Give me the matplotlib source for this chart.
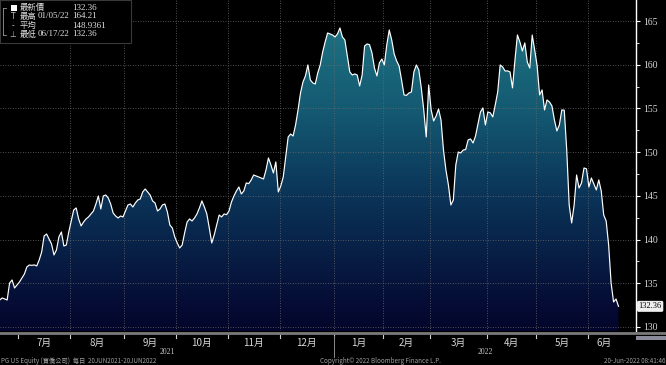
import numpy as np
import pandas as pd
import matplotlib
matplotlib.use('Agg')
import matplotlib.pyplot as plt
from matplotlib.colors import LinearSegmentedColormap
from matplotlib.transforms import blended_transform_factory
from matplotlib.patches import Rectangle, Polygon
from matplotlib.ticker import MultipleLocator, NullFormatter
from matplotlib.lines import Line2D

plt.rcParams['font.family'] = ['Noto Sans CJK TC', 'DejaVu Sans']

# ---------------- data ----------------
holidays = ['2021-07-05', '2021-09-06', '2021-11-25', '2021-12-24',
            '2022-01-17', '2022-02-21', '2022-04-15', '2022-05-30']
dates = pd.bdate_range('2021-06-21', '2022-06-17')
dates = dates[~dates.isin(pd.to_datetime(holidays))]

values = [
    133.09, 133.32, 133.20, 133.09, 135.03, 135.38, 134.46, 134.81, 135.15, 135.61,
    136.06, 136.87, 137.09, 137.05, 137.10, 136.98, 137.67, 138.58, 140.41, 140.64,
    140.07, 139.50, 138.24, 138.81, 140.30, 140.87, 139.27, 139.38, 140.87, 142.13,
    143.39, 143.62, 142.36, 141.56, 142.01, 142.36, 142.59, 142.93, 143.27, 144.07,
    144.99, 143.50, 144.99, 145.10, 144.76, 144.07, 143.04, 142.70, 142.47, 142.70,
    142.59, 143.27, 143.96, 144.07, 143.73, 144.19, 144.53, 144.65, 145.45, 145.79,
    145.45, 145.10, 144.42, 144.19, 143.27, 143.50, 143.96, 144.07, 143.16, 141.67,
    141.33, 140.30, 139.61, 139.04, 139.38, 140.76, 142.01, 142.36, 142.13, 142.47,
    142.93, 143.62, 144.42, 143.73, 142.93, 141.33, 139.61, 140.53, 141.67, 142.81,
    142.59, 142.93, 142.85, 143.27, 144.30, 144.99, 145.56, 146.02, 145.22, 145.56,
    146.48, 146.40, 146.82, 147.39, 147.28, 147.16, 147.05, 146.93, 147.96, 149.34,
    148.54, 147.62, 148.88, 145.45, 146.13, 147.16, 149.45, 151.74, 152.08, 151.85,
    153.11, 154.83, 156.77, 158.03, 158.72, 159.98, 158.26, 157.92, 157.80, 159.06,
    159.98, 161.47, 162.61, 163.64, 163.53, 163.41, 163.18, 163.53, 164.21, 163.18,
    162.84, 161.01, 159.18, 158.83, 158.95, 158.83, 157.58, 158.83, 162.15, 162.38,
    162.30, 161.35, 159.63, 158.72, 160.21, 160.66, 159.98, 162.27, 163.98, 162.84,
    161.24, 160.44, 159.86, 158.26, 156.55, 156.50, 156.77, 156.89, 159.18, 159.98,
    159.41, 157.35, 154.83, 151.74, 157.69, 154.83, 153.57, 154.14, 154.94, 153.69,
    150.25, 147.96, 146.25, 143.96, 144.53, 148.54, 150.02, 149.91, 150.25, 150.30,
    151.40, 151.51, 151.05, 151.85, 153.23, 154.60, 155.06, 153.11, 154.60, 154.50,
    154.03, 155.40, 156.89, 159.98, 159.75, 159.29, 159.30, 159.18, 157.35, 160.55,
    163.41, 162.61, 161.58, 162.50, 160.32, 159.63, 163.40, 161.69, 159.86, 156.55,
    157.12, 154.83, 155.97, 155.74, 155.29, 153.69, 152.43, 153.11, 154.83, 154.80,
    150.25, 143.96, 141.90, 143.96, 147.39, 145.90, 146.48, 148.19, 148.10, 146.02,
    147.05, 146.36, 145.68, 146.82, 145.56, 142.81, 142.13, 139.38, 135.03, 132.86,
    133.20, 132.36]

month_labels = ['7月', '8月', '9月', '10月', '11月', '12月',
                '1月', '2月', '3月', '4月', '5月', '6月']
year_labels = ['2021', '2022']
yticks = [130, 135, 140, 145, 150, 155, 160, 165]

legend_names = ['最新價', '最高', '平均', '最低']
legend_dates = ['', '01/05/22', '', '06/17/22']
legend_values = ['132.36', '164.21', '148.9361', '132.36']

footer_left = 'PG US Equity (寶僑公司)  每日  20JUN2021-20JUN2022'
footer_mid = 'Copyright© 2022 Bloomberg Finance L.P.'
footer_right = '20-Jun-2022 08:41:46'

# ---------------- figure ----------------
W, H = 666, 365
fig = plt.figure(figsize=(W / 100, H / 100), dpi=100, facecolor='black')
ax = fig.add_axes([0, (H - 331) / H, 636 / W, 331 / H])
ax.set_facecolor('black')

x = np.arange(len(dates))
vals = np.array(values)
ylo, yhi = 129.54, 167.41

# gradient fill under the line
cmap = LinearSegmentedColormap.from_list('bbg', [
    (0.0, '#03062a'), (0.07, '#050b34'), (0.41, '#0b3458'),
    (0.67, '#145a72'), (0.91, '#1d7081'), (1.0, '#1f7586')])
grad = np.linspace(0, 1, 512).reshape(-1, 1)
im = ax.imshow(grad, extent=[x[0], x[-1], ylo, yhi], origin='lower',
               aspect='auto', cmap=cmap, zorder=1, interpolation='bilinear')
verts = np.column_stack([np.r_[x[0], x, x[-1]], np.r_[ylo, vals, ylo]])
poly = Polygon(verts, closed=True, facecolor='none', edgecolor='none',
               transform=ax.transData)
ax.add_patch(poly)
im.set_clip_path(poly)
ax.set_xlim(0.1, 258.1)
ax.set_ylim(ylo, yhi)

ax.plot(x, vals, color='white', lw=0.85, zorder=3)

# month boundaries
per = dates.to_period('M')
bounds = [i - 0.5 for i in range(1, len(per)) if per[i] != per[i - 1]]
centers = pd.Series(x).groupby(np.asarray(per.astype(str))).mean().sort_index().values[1:]

ax.set_xticks(bounds[1:])
ax.xaxis.set_major_formatter(NullFormatter())
ax.tick_params(axis='x', length=0)
ax.set_yticks(yticks)
ax.yaxis.set_minor_locator(MultipleLocator(2.5))
ax.set_axisbelow(False)
ax.grid(True, which='major', color='#6a6a6a', ls=(0, (1, 2)), lw=0.6)

ax.yaxis.tick_right()
ax.tick_params(axis='y', which='major', length=3, width=0.8, color='white',
               labelcolor='#d8d8d8', labelsize=7, pad=2)
ax.tick_params(axis='y', which='minor', length=2, width=0.6, color='white')
for lab in ax.get_yticklabels():
    lab.set_family('Liberation Serif')
for s in ['left', 'top', 'bottom']:
    ax.spines[s].set_visible(False)
ax.spines['right'].set_color('white')
ax.spines['right'].set_linewidth(1.0)

# last price box
bt = blended_transform_factory(ax.transAxes, ax.transData)
ax.text(1.004, vals[-1], legend_values[0], transform=bt, fontsize=6,
        color='black', va='center', ha='left', family='Liberation Serif',
        bbox=dict(boxstyle='round,pad=0.18', fc='#efefef', ec='none'), zorder=5,
        clip_on=False)

# bottom band
def fy(p):
    return 1 - p / H

fig.add_artist(Line2D([0, 1], [fy(333), fy(333)], transform=fig.transFigure,
                      color='#7a7a7a', lw=2.0))
fig.add_artist(Rectangle((636 / W, fy(340)), 30 / W, 4 / H, transform=fig.transFigure,
                         facecolor='#8a8a9a', edgecolor='none'))

tb = blended_transform_factory(ax.transData, fig.transFigure)
for b in bounds:
    fig.add_artist(Line2D([b, b], [fy(335), fy(338)], transform=tb,
                          color='#cfcfcf', lw=0.8))
for c, lab in zip(centers, month_labels):
    fig.text(c, fy(343), lab, transform=tb, fontsize=7, color='#d8d8d8',
             ha='center', va='center')

ybound = bounds[6]
fig.add_artist(Line2D([ybound, ybound], [fy(336), fy(357)], transform=tb,
                      color='#8a8a8a', lw=0.7))
xl = ax.get_xlim()
for c, lab in zip([(xl[0] + ybound) / 2, (ybound + xl[1]) / 2], year_labels):
    fig.text(c, fy(352), lab, transform=tb, fontsize=5.5, color='#c8c8c8',
             ha='center', va='center', family='Liberation Serif')

# footer
fig.text(1 / W, fy(361), footer_left, fontsize=4.5, color='#a0a0a0',
         ha='left', va='center')
fig.text(380 / W, fy(361), footer_mid, fontsize=4.5, color='#a0a0a0',
         ha='center', va='center')
fig.text(665 / W, fy(361), footer_right, fontsize=4.5, color='#a0a0a0',
         ha='right', va='center')

# legend box
fig.add_artist(Rectangle((0, fy(43)), 131 / W, 43 / H, transform=fig.transFigure,
                         facecolor='black', edgecolor='#3a3a3a', lw=0.8, zorder=6))
rows = [7.5, 16.5, 25.5, 34.5]
fig.add_artist(Line2D([3 / W, 3 / W], [fy(8), fy(35)], transform=fig.transFigure,
                      color='#9a9a9a', lw=0.6, zorder=7))
for r in [8, 35]:
    fig.add_artist(Line2D([3 / W, 6 / W], [fy(r), fy(r)], transform=fig.transFigure,
                          color='#9a9a9a', lw=0.6, zorder=7))
fig.add_artist(Rectangle((11 / W, fy(11)), 6 / W, 6 / H, transform=fig.transFigure,
                         facecolor='white', edgecolor='none', zorder=7))
for sym, r in zip(['T', '-', '⊥'], rows[1:]):
    fig.text(13 / W, fy(r), sym, fontsize=5.5, color='#c0c0c0', ha='center',
             va='center', zorder=7, family='DejaVu Sans')
for i, r in enumerate(rows):
    fig.text(20 / W, fy(r), legend_names[i], fontsize=6, color='#e0e0e0',
             ha='left', va='center', zorder=7)
    if legend_dates[i]:
        fig.text(38 / W, fy(r), legend_dates[i], fontsize=6.5, color='#e0e0e0',
                 ha='left', va='center', zorder=7, family='Liberation Serif')
    fig.text(72 / W, fy(r), legend_values[i], fontsize=6.5, color='#e0e0e0',
             ha='left', va='center', zorder=7, family='Liberation Serif')

fig.savefig('out.png', dpi=100, facecolor='black')
